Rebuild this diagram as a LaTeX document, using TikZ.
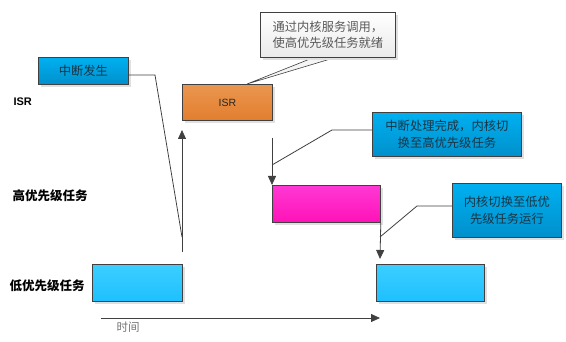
\documentclass[tikz,border=0pt]{standalone}
\usepackage{fontspec}
\setmainfont{Noto Sans CJK SC}
\newfontfamily\latinb{Liberation Sans}
\usetikzlibrary{shadows,arrows.meta}
\definecolor{ln}{HTML}{404040}
\definecolor{btop}{HTML}{00B0F0}
\definecolor{bbot}{HTML}{0090CC}
\definecolor{otop}{HTML}{EA9650}
\definecolor{obot}{HTML}{E27E2E}
\definecolor{mtop}{HTML}{FF38D4}
\definecolor{mbot}{HTML}{FF12B8}
\definecolor{ctop}{HTML}{3CCEFF}
\definecolor{cbot}{HTML}{1EC0FF}
\definecolor{btext}{HTML}{1C3444}
\tikzset{
  box/.style={draw=ln, line width=0.8pt, inner sep=0pt, anchor=north west,
    drop shadow={shadow xshift=2.5pt, shadow yshift=-2.5pt, fill=black!12, opacity=1},
    font=\fontsize{12.3}{16.5}\selectfont, align=center},
  bluebox/.style={box, top color=btop, bottom color=bbot, text=btext},
  graybox/.style={box, top color=white, bottom color=black!8, text=black!65},
  lbl/.style={font=\fontsize{12.5}{14}\selectfont\bfseries, text=black, anchor=west},
  conn/.style={draw=ln, line width=0.8pt},
  arr/.style={conn, -{Triangle[length=9pt,width=8pt]}}
}
\begin{document}
\begin{tikzpicture}[x=1pt,y=-1pt]
\useasboundingbox (0,0) rectangle (566,342);
% row labels
\node[lbl, font=\latinb\fontsize{11}{13}\selectfont\bfseries] (lisr) at (10,102) {ISR};
\node[lbl] (lhigh) at (9,196) {高优先级任务};
\node[lbl] (llow) at (6,286) {低优先级任务};
% task boxes
\node[box, top color=ctop, bottom color=cbot, minimum width=90pt, minimum height=37pt] (low1) at (92,264) {};
\node[box, top color=otop, bottom color=obot, minimum width=90pt, minimum height=36pt, text=black!85, font=\latinb\fontsize{10.5}{12}\selectfont] (isr) at (182,84) {ISR};
\node[box, top color=mtop, bottom color=mbot, minimum width=108pt, minimum height=37pt] (high) at (272,185) {};
\node[box, top color=ctop, bottom color=cbot, minimum width=108pt, minimum height=37pt] (low2) at (376,264) {};
% callout tail for gray box
\coordinate (t1) at (315,57);
\coordinate (t2) at (337,57);
\coordinate (tip) at (247,84);
\filldraw[conn, fill=black!4, line width=0.6pt] (t1) -- (tip) -- (t2);
% callouts
\node[bluebox, minimum width=90pt, minimum height=27pt] (intr) at (38,57) {中断发生};
\node[graybox, minimum width=135pt, minimum height=45pt] (c1) at (260,12) {通过内核服务调用，\\使高优先级任务就绪};
\node[bluebox, minimum width=149pt, minimum height=44pt] (c2) at (372,112) {中断处理完成，内核切\\换至高优先级任务};
\node[bluebox, minimum width=109pt, minimum height=54pt] (c3) at (452,183) {内核切换至低优\\先级任务运行};
% arrows
\coordinate (a1s) at (182,252);
\coordinate (a1e) at (182,130);
\draw[arr] (a1s) -- (a1e);
\coordinate (k1) at (155,75);
\coordinate (k1e) at (182,237);
\draw[conn] (intr.east |- k1) -- (k1) -- (k1e);
\coordinate (a2s) at (272,138);
\draw[arr] (a2s) -- (high.north west);
\coordinate (k2) at (332,130);
\coordinate (k2e) at (272,165);
\draw[conn] (c2.west |- k2) -- (k2) -- (k2e);
\coordinate (a3e) at (380,259);
\draw[arr] (high.south east) -- (a3e);
\coordinate (k3) at (417,206);
\coordinate (k3e) at (380,237);
\draw[conn] (c3.west |- k3) -- (k3) -- (k3e);
% time axis
\coordinate (ts) at (101,318);
\coordinate (te) at (380,318);
\draw[arr] (ts) -- (te);
\node[font=\fontsize{11.5}{13}\selectfont, text=black!55] (time) at (128,327) {时间};
\end{tikzpicture}
\end{document}
